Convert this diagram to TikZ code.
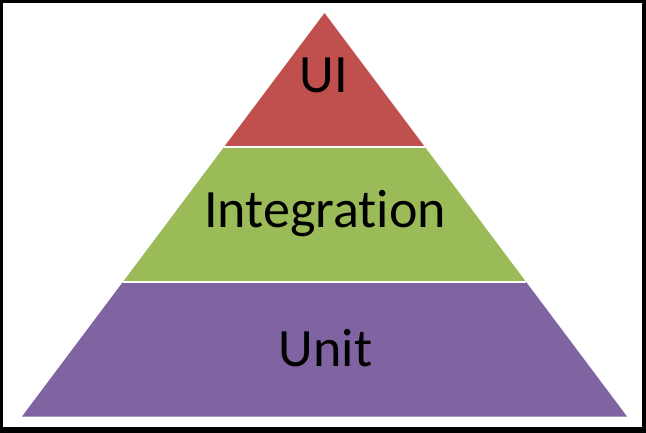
\documentclass[tikz,border=0pt]{standalone}
\usepackage{fontspec}
\usepackage{tikz}
\usetikzlibrary{calc}
\newfontfamily\labelfont[Ligatures=NoCommon]{Carlito}
\definecolor{ui_red}{HTML}{C0504D}
\definecolor{int_green}{HTML}{9BBB59}
\definecolor{unit_purple}{HTML}{8064A2}

\begin{document}
\begin{tikzpicture}[x=1pt, y=-1pt,
		band_line/.style={draw=white, line width=2pt},
		label_style/.style={anchor=base, inner sep=0pt, font=\labelfont\fontsize{54}{60}\selectfont, text=black}]
		
		% frame
		\fill[black] (0,0) rectangle (646,433);
		\fill[white] (3,3) rectangle (642,427);
		
		\coordinate (apex) at (324.5,13);
		\coordinate (bl) at (22,416.5);
		\coordinate (br) at (627,416.5);
		\coordinate (l1) at ($(apex)!1/3!(bl)$);
		\coordinate (r1) at ($(apex)!1/3!(br)$);
		\coordinate (l2) at ($(apex)!2/3!(bl)$);
		\coordinate (r2) at ($(apex)!2/3!(br)$);
		
		\fill[ui_red] (apex) -- (r1) -- (l1) -- cycle;
		\fill[int_green] (l1) -- (r1) -- (r2) -- (l2) -- cycle;
		\fill[unit_purple] (l2) -- (r2) -- (br) -- (bl) -- cycle;
		\draw[band_line] (l1) -- (r1);
		\draw[band_line] (l2) -- (r2);
		
		\node[label_style] (ui) at (324,93) {UI};
		\node[label_style] (integration) at (325,228) {Integration};
		\node[label_style] (unit) at (325.5,366.5) {Unit};
		\end{tikzpicture}
\end{document}
